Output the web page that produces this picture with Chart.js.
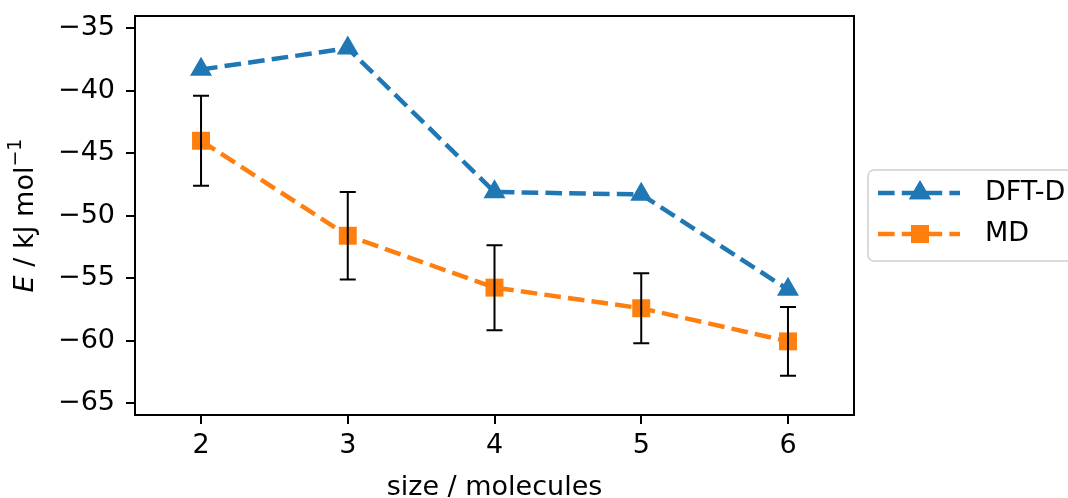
<!DOCTYPE html>
<html>
<head>
<meta charset="utf-8">
<script src="https://cdn.jsdelivr.net/npm/chart.js@4"></script>
<style>
  html, body { margin: 0; padding: 0; background: #fff; }
  #wrap { width: 1068px; height: 498px; }
</style>
</head>
<body>
<div id="wrap"><canvas id="chart" width="1068" height="498"></canvas></div>
<script>
// data
const sizes = [2, 3, 4, 5, 6];
const dftD = [-38.3, -36.6, -48.1, -48.3, -55.9];
const md = [-44.0, -51.6, -55.75, -57.4, -60.05];
const mdErr = [3.6, 3.5, 3.4, 2.8, 2.75];
const xTicks = [2, 3, 4, 5, 6];
const yTicks = [-35, -40, -45, -50, -55, -60, -65];

const FONT = "'DejaVu Sans', sans-serif";
const FS = 27;
const BLUE = '#1f77b4';
const ORANGE = '#ff7f0e';
const LW = 4.5;
const DASH = [16.6, 7.2];
const fmt = v => (v < 0 ? '\u2212' + Math.abs(v) : String(v));

// error bars, frame, axis labels, legend
const extras = {
    id: 'extras',
    afterDatasetsDraw(chart) {
        const ctx = chart.ctx;
        const xs = chart.scales.x, ys = chart.scales.y;
        ctx.save();
        ctx.strokeStyle = '#000';
        ctx.lineWidth = 2;
        sizes.forEach((s, i) => {
            const px = xs.getPixelForValue(s);
            const top = ys.getPixelForValue(md[i] + mdErr[i]);
            const bot = ys.getPixelForValue(md[i] - mdErr[i]);
            ctx.beginPath();
            ctx.moveTo(px, top); ctx.lineTo(px, bot);
            ctx.moveTo(px - 8, top); ctx.lineTo(px + 8, top);
            ctx.moveTo(px - 8, bot); ctx.lineTo(px + 8, bot);
            ctx.stroke();
        });
        ctx.restore();
    },
    afterDraw(chart) {
        const ctx = chart.ctx;
        const a = chart.chartArea;
        ctx.save();
        // frame
        ctx.strokeStyle = '#000';
        ctx.lineWidth = 2;
        ctx.strokeRect(a.left, a.top, a.right - a.left, a.bottom - a.top);

        // x title
        ctx.fillStyle = '#000';
        ctx.font = FS + 'px ' + FONT;
        ctx.textAlign = 'center';
        ctx.textBaseline = 'alphabetic';
        ctx.fillText('size / molecules', (a.left + a.right) / 2, 495);

        // y title: E / kJ mol^-1
        ctx.translate(26, (a.top + a.bottom) / 2);
        ctx.rotate(-Math.PI / 2);
        ctx.textAlign = 'left';
        ctx.textBaseline = 'middle';
        const p1 = 'E', p2 = ' / kJ mol', p3 = '\u22121';
        ctx.font = 'italic ' + FS + 'px ' + FONT;
        const w1 = ctx.measureText(p1).width;
        ctx.font = FS + 'px ' + FONT;
        const w2 = ctx.measureText(p2).width;
        ctx.font = '19px ' + FONT;
        const w3 = ctx.measureText(p3).width;
        let x0 = -(w1 + w2 + w3) / 2;
        ctx.font = 'italic ' + FS + 'px ' + FONT;
        ctx.fillText(p1, x0, 0);
        ctx.font = FS + 'px ' + FONT;
        ctx.fillText(p2, x0 + w1, 0);
        ctx.font = '19px ' + FONT;
        ctx.fillText(p3, x0 + w1 + w2, -10);
        ctx.restore();

        // legend
        ctx.save();
        const lx = 868, ly = 170, lw = 215, lh = 91, r = 6;
        ctx.beginPath();
        ctx.roundRect(lx, ly, lw, lh, r);
        ctx.fillStyle = 'rgba(255,255,255,0.8)';
        ctx.fill();
        ctx.strokeStyle = '#d0d0d0';
        ctx.lineWidth = 1.5;
        ctx.stroke();
        const rows = [
            { label: 'DFT-D', color: BLUE, style: 'triangle', y: 193, r: 12.7 },
            { label: 'MD', color: ORANGE, style: 'rect', y: 234, r: 12.7 }
        ];
        rows.forEach(row => {
            ctx.strokeStyle = row.color;
            ctx.lineWidth = LW;
            ctx.setLineDash(DASH);
            ctx.beginPath();
            ctx.moveTo(878, row.y); ctx.lineTo(960, row.y);
            ctx.stroke();
            ctx.setLineDash([]);
            ctx.fillStyle = row.color;
            Chart.helpers.drawPoint(ctx, { pointStyle: row.style, radius: row.r, borderWidth: 0, rotation: 0 }, 920, row.y);
            ctx.fill();
            ctx.fillStyle = '#000';
            ctx.font = FS + 'px ' + FONT;
            ctx.textAlign = 'left';
            ctx.textBaseline = 'middle';
            ctx.fillText(row.label, 985, row.y);
        });
        ctx.restore();
    }
};

new Chart(document.getElementById('chart'), {
    type: 'line',
    data: {
        datasets: [
            {
                label: 'DFT-D',
                data: sizes.map((s, i) => ({ x: s, y: dftD[i] })),
                borderColor: BLUE,
                backgroundColor: BLUE,
                borderWidth: LW,
                borderDash: DASH,
                pointStyle: 'triangle',
                pointRadius: 12.7,
                pointBorderWidth: 0,
                pointBackgroundColor: BLUE,
                tension: 0
            },
            {
                label: 'MD',
                data: sizes.map((s, i) => ({ x: s, y: md[i] })),
                borderColor: ORANGE,
                backgroundColor: ORANGE,
                borderWidth: LW,
                borderDash: DASH,
                pointStyle: 'rect',
                pointRadius: 12.7,
                pointBorderWidth: 0,
                pointBackgroundColor: ORANGE,
                tension: 0
            }
        ]
    },
    options: {
        responsive: false,
        animation: false,
        devicePixelRatio: 1,
        layout: { padding: { left: 0, top: 16, right: 214, bottom: 0 } },
        plugins: { legend: { display: false }, tooltip: { enabled: false } },
        scales: {
            x: {
                type: 'linear',
                min: 1.55,
                max: 6.45,
                afterBuildTicks: s => { s.ticks = xTicks.map(v => ({ value: v })); },
                afterFit: s => { s.height = 83; s.paddingLeft = 0; s.paddingRight = 0; },
                grid: { drawOnChartArea: false, drawTicks: true, tickLength: 9, color: '#000', lineWidth: 2 },
                border: { display: true, color: '#000', width: 2 },
                ticks: { color: '#000', font: { family: FONT, size: FS }, padding: 6, maxRotation: 0, callback: v => fmt(v) }
            },
            y: {
                type: 'linear',
                min: -65.94,
                max: -34.02,
                afterBuildTicks: s => { s.ticks = yTicks.map(v => ({ value: v })); },
                afterFit: s => { s.width = 135; s.paddingTop = 0; s.paddingBottom = 0; },
                grid: { drawOnChartArea: false, drawTicks: true, tickLength: 9, color: '#000', lineWidth: 2 },
                border: { display: true, color: '#000', width: 2 },
                ticks: { color: '#000', font: { family: FONT, size: FS }, padding: 11, callback: v => fmt(v) }
            }
        }
    },
    plugins: [extras]
});
</script>
</body>
</html>
